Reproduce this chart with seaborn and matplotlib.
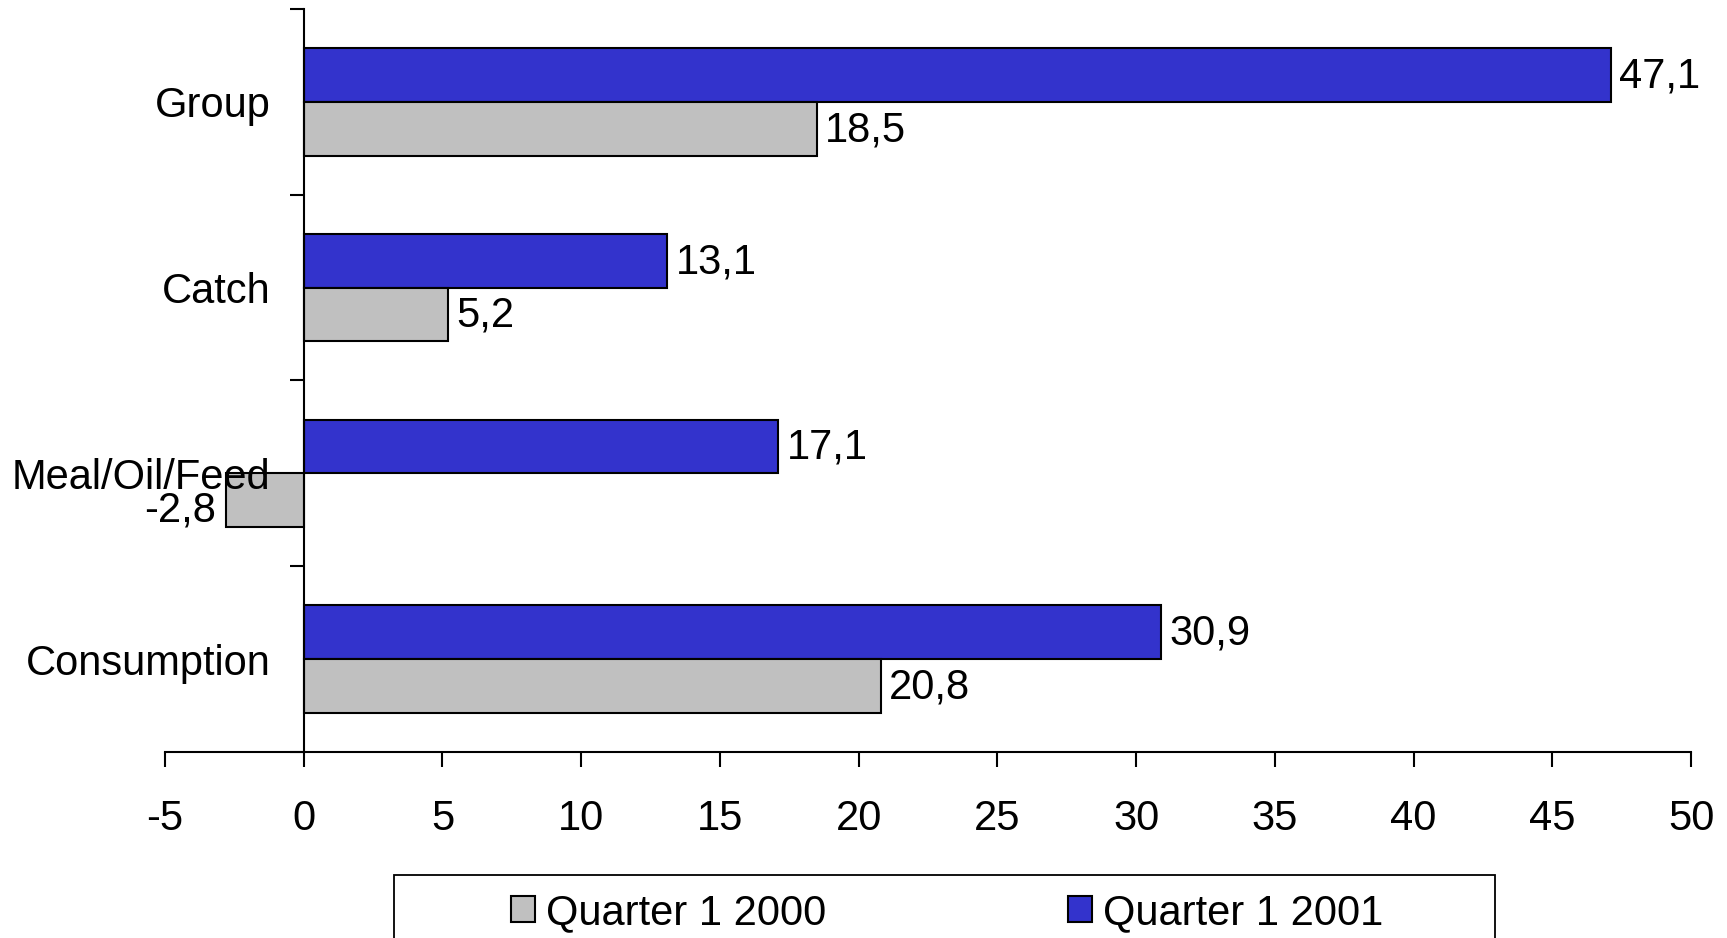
import matplotlib
matplotlib.use("Agg")
import matplotlib.pyplot as plt
import matplotlib.patches as mpatches
import seaborn as sns
import pandas as pd

categories = ["Group", "Catch", "Meal/Oil/Feed", "Consumption"]
q1_2000 = [18.5, 5.2, -2.8, 20.8]
q1_2001 = [47.1, 13.1, 17.1, 30.9]
series_names = ["Quarter 1 2000", "Quarter 1 2001"]
colors = {"Quarter 1 2000": "#C0C0C0", "Quarter 1 2001": "#3333CC"}
x_ticks = [-5, 0, 5, 10, 15, 20, 25, 30, 35, 40, 45, 50]

df = pd.DataFrame({
    "category": categories * 2,
    "value": q1_2000 + q1_2001,
    "series": [series_names[0]] * 4 + [series_names[1]] * 4,
})

sns.set_theme(style="white")
plt.rcParams["font.family"] = ["Liberation Sans", "DejaVu Sans"]
plt.rcParams["text.color"] = "black"
plt.rcParams["xtick.color"] = "black"
plt.rcParams["ytick.color"] = "black"
plt.rcParams["xtick.labelcolor"] = "black"
plt.rcParams["ytick.labelcolor"] = "black"
FS = 30

fig = plt.figure(figsize=(17.27, 9.38), dpi=100)
ax = fig.add_axes([165 / 1727, 1 - 752 / 938, (1691 - 165) / 1727, (752 - 9) / 938])

hue_order = [series_names[1], series_names[0]]
sns.barplot(data=df, y="category", x="value", hue="series", order=categories,
            hue_order=hue_order, palette=colors, saturation=1, orient="h", width=0.58,
            edgecolor="black", linewidth=1.5, legend=False, ax=ax, zorder=1)

ax.set_xlim(-5, 50)
ax.set_ylim(3.5, -0.5)
ax.set_xlabel("")
ax.set_ylabel("")
ax.set_axisbelow(False)

for sp in ["top", "right"]:
    ax.spines[sp].set_visible(False)
ax.spines["left"].set_position(("data", 0))
for sp in ["left", "bottom"]:
    ax.spines[sp].set_linewidth(1.5)
    ax.spines[sp].set_color("black")

ax.set_xticks(x_ticks)
ax.set_xticklabels([str(t) for t in x_ticks])
ax.tick_params(axis="x", direction="out", length=11, width=1.5, color="black",
               labelsize=FS, pad=23, bottom=True, labelcolor="black")

ax.set_yticks(range(len(categories)))
ax.set_yticklabels(categories)
ax.set_yticks([-0.5, 0.5, 1.5, 2.5, 3.5], minor=True)
ax.tick_params(axis="y", which="major", length=0, labelsize=FS, pad=24, left=True,
               labelcolor="black")
ax.tick_params(axis="y", which="minor", direction="out", length=10, width=1.5,
               color="black", left=True)

def fmt(v):
    return f"{v:.1f}".replace(".", ",")

series_vals = {series_names[0]: q1_2000, series_names[1]: q1_2001}
for cont, name in zip(ax.containers, hue_order):
    vals = series_vals[name]
    texts = ax.bar_label(cont, labels=[fmt(v) for v in vals], padding=6,
                         fontsize=FS, color="black")
    for t, v in zip(texts, vals):
        x0, y0 = t.xyann
        if v < 0:
            t.xyann = (x0 - 1, y0 - 7)
        else:
            t.xyann = (x0, y0 - 1)

handles = [mpatches.Patch(facecolor=colors[n], edgecolor="black", linewidth=1.5, label=n)
           for n in series_names]
fig.legend(handles=handles, loc="center", bbox_to_anchor=(947 / 1727, 1 - 913 / 938),
           ncol=2, frameon=False, fontsize=FS, handlelength=0.58, handleheight=0.58,
           handletextpad=0.26, columnspacing=5.8, borderpad=0)
fig.patches.append(mpatches.Rectangle((394 / 1727, -0.05), (1495 - 394) / 1727,
                                      (938 - 875) / 938 + 0.05, transform=fig.transFigure,
                                      fill=False, edgecolor="black", linewidth=1.3))

fig.savefig("out.png", dpi=100, facecolor="white")
